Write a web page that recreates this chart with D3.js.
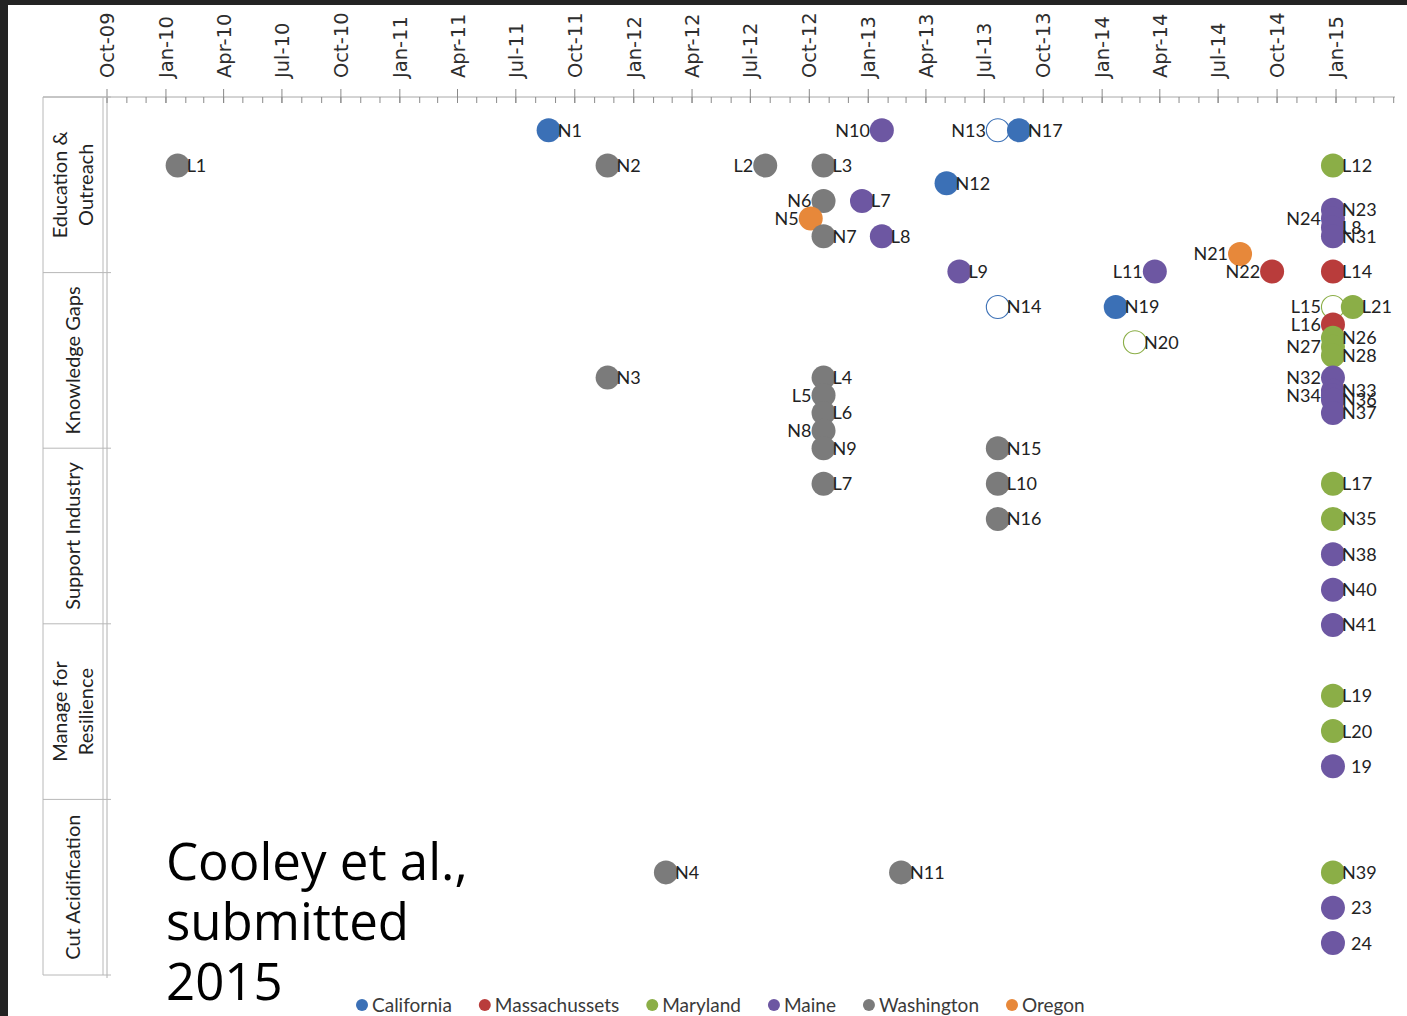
<!DOCTYPE html>
<html><head><meta charset="utf-8">
<script src="https://cdnjs.cloudflare.com/ajax/libs/d3/7.8.5/d3.min.js"></script>
<style>
html,body{margin:0;padding:0;background:#232323;}
svg{display:block;}
</style></head><body>
<svg id="c" width="1407" height="1016"></svg>
<script>
// ---------- data ----------
const tickLabels = ["Oct-09","Jan-10","Apr-10","Jul-10","Oct-10","Jan-11","Apr-11","Jul-11","Oct-11","Jan-12","Apr-12","Jul-12","Oct-12","Jan-13","Apr-13","Jul-13","Oct-13","Jan-14","Apr-14","Jul-14","Oct-14","Jan-15"];
const categories = ["Education &\nOutreach","Knowledge Gaps","Support Industry","Manage for\nResilience","Cut Acidification"];
const states = ["California","Massachussets","Maryland","Maine","Washington","Oregon"];
const stateColors = ["#3b70b6","#b93c3b","#8bae47","#6d57a2","#7b7b7b","#e7883a"];

const pointLabels = ["N1","L1","N2","L2","L3","N10","N13","N17","N12","N6","L7","N5","N7","L8","L9","L11","N21","N22","L12","N23","N24","L8","N31","L14",
  "N14","N19","N20","L15","L21","L16","N26","N27","N28","N32","N33","N34","N36","N37","N3","L4","L5","L6","N8","N9","N15",
  "L7","L10","N16","L17","N35","N38","N40","N41",
  "L19","L20","\u200219",
  "N4","N11","N39","\u200223","\u200224"];
const pointDates = ["2011-08-22","2010-01-20","2011-11-22","2012-07-25","2012-10-24","2013-01-23","2013-07-23","2013-08-25","2013-05-04","2012-10-24","2012-12-23","2012-10-04","2012-10-24","2013-01-23","2013-05-24","2014-03-25","2014-08-05","2014-09-24","2014-12-28","2014-12-28","2014-12-28","2014-12-28","2014-12-28","2014-12-28",
  "2013-07-23","2014-01-23","2014-02-22","2014-12-28","2015-01-28","2014-12-28","2014-12-28","2014-12-28","2014-12-28","2014-12-28","2014-12-28","2014-12-28","2014-12-28","2014-12-28","2011-11-22","2012-10-24","2012-10-24","2012-10-24","2012-10-24","2012-10-24","2013-07-23",
  "2012-10-24","2013-07-23","2013-07-23","2014-12-28","2014-12-28","2014-12-28","2014-12-28","2014-12-28",
  "2014-12-28","2014-12-28","2014-12-28",
  "2012-02-21","2013-02-22","2014-12-28","2014-12-28","2014-12-28"];
const pointValues = [48,46,46,46,46,48,48,48,45,44,44,43,42,42,40,40,41,40,46,43.5,43,42.5,42,40,
  38,38,36,38,38,37,36.25,35.75,35.25,34,33.25,33,32.75,32,34,34,33,32,31,30,30,
  28,28,26,28,26,24,22,20,
  16,14,12,
  6,6,6,4,2];
const pointStates = ["California","Washington","Washington","Washington","Washington","Maine","California","California","California","Washington","Maine","Oregon","Washington","Maine","Maine","Maine","Oregon","Massachussets","Maryland","Maine","Maine","Maine","Maine","Massachussets",
  "California","California","Maryland","Maryland","Maryland","Massachussets","Maryland","Maryland","Maryland","Maine","Maine","Maine","Maine","Maine","Washington","Washington","Washington","Washington","Washington","Washington","Washington",
  "Washington","Washington","Washington","Maryland","Maryland","Maine","Maine","Maine",
  "Maryland","Maryland","Maine",
  "Washington","Washington","Maryland","Maine","Maine"];
const hollowLabels = ["N13","N14","N20","L15"];
const labelSides = ["R","R","R","L","R","L","L","R","R","L","R","L","R","R","R","L","L","L","R","R","L","R","R","R",
  "R","R","R","L","R","L","R","L","R","L","R","L","R","R","R","R","L","R","L","R","R",
  "R","R","R","R","R","R","R","R",
  "R","R","R",
  "R","R","R","R","R"];

// ---------- drawing ----------
const svg = d3.select("#c");
svg.append("rect").attr("x",8).attr("y",5).attr("width",1399).attr("height",1011).attr("fill","#ffffff");

const parseDate = d3.timeParse("%Y-%m-%d");
const parseTick = d3.timeParse("%b-%y");
const x = d3.scaleTime().domain([new Date(2009,9,1), new Date(2015,3,1)]).range([106.5, 1393.2]);
const y = d3.scaleLinear().domain([0,50]).range([978.4, 94.9]);
const color = d3.scaleOrdinal(states, stateColors);
const band = d3.scaleBand(categories, [97, 975]);

const axisY = 97;
svg.append("line").attr("x1",43).attr("x2",1395).attr("y1",axisY).attr("y2",axisY).attr("stroke","#a8a8a8").attr("stroke-width",1);

// minor ticks (monthly)
const minorDates = d3.timeMonth.range(new Date(2009,9,1), new Date(2015,3,2));
const minorAxis = d3.axisBottom(x).tickValues(minorDates).tickSize(6).tickFormat("");
const gm = svg.append("g").attr("transform",`translate(0,${axisY})`).call(minorAxis);
gm.select(".domain").remove();
gm.selectAll("line").attr("stroke","#8a8a8a");

// major ticks + labels
const majorDates = tickLabels.map(parseTick);
const majorAxis = d3.axisTop(x).tickValues(majorDates).tickSize(8).tickFormat((d,i)=>tickLabels[i]);
const gM = svg.append("g").attr("transform",`translate(0,${axisY})`).call(majorAxis);
gM.select(".domain").remove();
gM.selectAll(".tick line").attr("y1",6).attr("y2",-8).attr("stroke","#8a8a8a");
gM.selectAll(".tick text")
  .attr("transform","rotate(-90)")
  .attr("x",19).attr("y",0).attr("dy","0.36em")
  .attr("text-anchor","start")
  .attr("font-family","DejaVu Sans").attr("font-size",19.5).attr("fill","#2e2e2e");

// y axis line
svg.append("line").attr("x1",107).attr("x2",107).attr("y1",axisY).attr("y2",978).attr("stroke","#b0b0b0");

// category table
const tbl = svg.append("g");
tbl.append("line").attr("x1",43).attr("x2",43).attr("y1",97).attr("y2",975).attr("stroke","#b8b8b8");
tbl.append("line").attr("x1",103).attr("x2",103).attr("y1",97).attr("y2",975).attr("stroke","#b8b8b8");
const bounds = categories.map(c=>band(c)).concat([band.range()[1]]);
tbl.selectAll("line.row").data(bounds).join("line").attr("class","row")
  .attr("x1",43).attr("x2",111).attr("y1",d=>d).attr("y2",d=>d).attr("stroke","#b8b8b8");
categories.forEach(c=>{
  const lines = c.split("\n");
  const cy = band(c)+band.bandwidth()/2;
  const t = tbl.append("text")
    .attr("transform",`translate(73,${cy}) rotate(-90)`)
    .attr("text-anchor","middle")
    .attr("font-family","Lato").attr("font-size",20).attr("fill","#222");
  const lh = 26;
  lines.forEach((l,i)=>{
    t.append("tspan").attr("x",0).attr("y",(i-(lines.length-1)/2)*lh).attr("dy","0.35em").text(l);
  });
});

// points
const pts = pointLabels.map((l,i)=>({label:l,date:parseDate(pointDates[i]),value:pointValues[i],state:pointStates[i],filled:!hollowLabels.includes(l),side:labelSides[i]}));
const r = 12;
svg.append("g").selectAll("circle").data(pts).join("circle")
  .attr("cx",d=>x(d.date)).attr("cy",d=>y(d.value)).attr("r",d=>d.filled?r:r-0.5)
  .attr("fill",d=>d.filled?color(d.state):"#ffffff")
  .attr("stroke",d=>d.filled?"none":color(d.state))
  .attr("stroke-width",1.1);
svg.append("g").selectAll("text").data(pts).join("text")
  .attr("x",d=>d.side==="R"? x(d.date)+9 : x(d.date)-12)
  .attr("y",d=>y(d.value)).attr("dy","0.36em")
  .attr("text-anchor",d=>d.side==="R"?"start":"end")
  .attr("font-family","Lato").attr("font-size",18).attr("fill","#222")
  .text(d=>d.label);

// citation text
const cite = svg.append("text").attr("font-family","Open Sans").attr("font-size",51).attr("fill","#000");
["Cooley et al.,","submitted","2015"].forEach((l,i)=>{
  cite.append("tspan").attr("x",166).attr("y",880+i*60).text(l);
});

// legend
const lg = svg.append("g");
let lx = 362;
states.forEach((s,i)=>{
  lg.append("circle").attr("cx",lx).attr("cy",1005).attr("r",6).attr("fill",stateColors[i]);
  const t = lg.append("text").attr("x",lx+10).attr("y",1005).attr("dy","0.35em")
    .attr("font-family","Lato").attr("font-size",19).attr("fill","#3a3a3a").text(s);
  lx += 10 + t.node().getComputedTextLength() + 33;
});
</script>
</body></html>
